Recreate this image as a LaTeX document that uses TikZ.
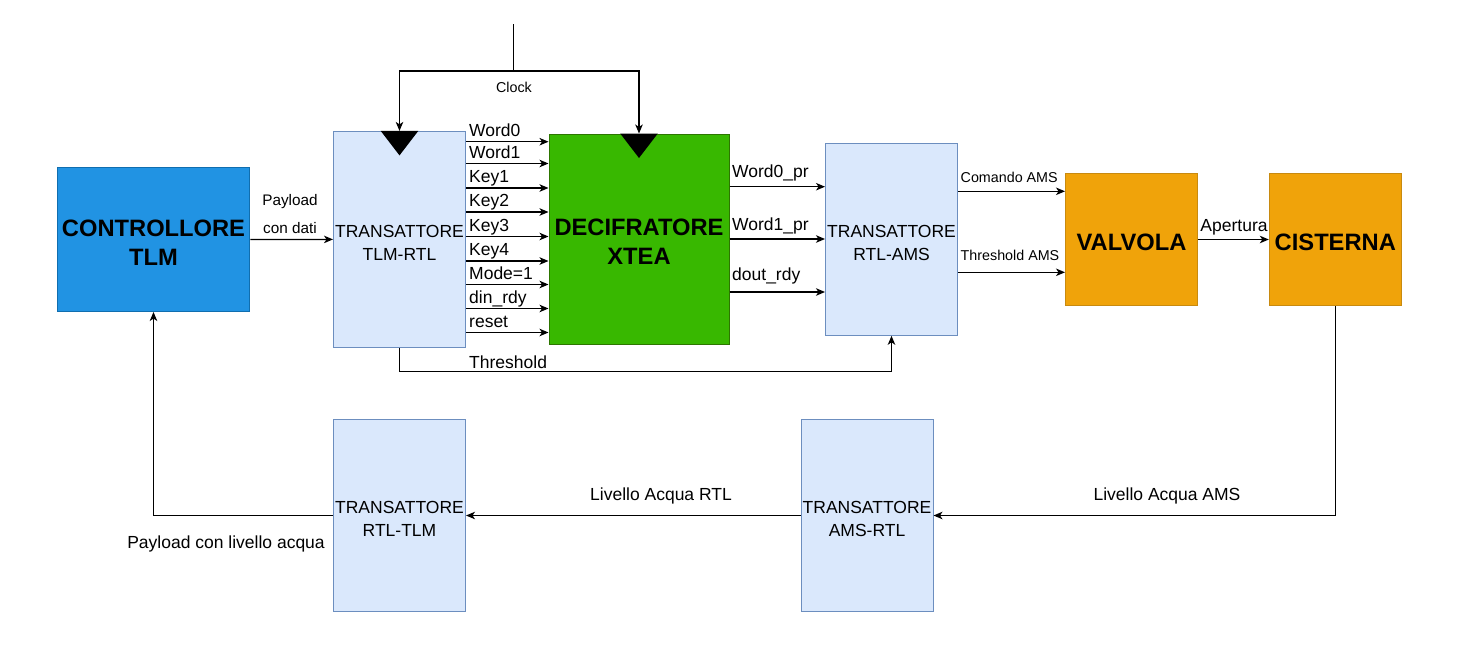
\documentclass[tikz,border=0pt]{standalone}
\usepackage{fontspec}
\setmainfont{Liberation Sans}
\usetikzlibrary{arrows.meta}
\definecolor{bluefill}{RGB}{33,147,227}
\definecolor{bluestroke}{RGB}{16,110,175}
\definecolor{tfill}{HTML}{DAE8FC}
\definecolor{tstroke}{HTML}{6C8EBF}
\definecolor{gfill}{HTML}{38B800}
\definecolor{gstroke}{HTML}{2D7600}
\definecolor{ofill}{HTML}{F0A30A}
\definecolor{ostroke}{HTML}{C88A10}
\begin{document}
\begin{tikzpicture}[x=1pt,y=-1pt,
 blk/.style={draw, line width=1pt, inner sep=0pt, anchor=center},
 trans/.style={blk, fill=tfill, draw=tstroke, minimum width=132pt},
 tt/.style={inner sep=0pt, align=center, yshift=-3.5pt, font=\fontsize{17.5}{22.5}\selectfont},
 bt/.style={inner sep=0pt, align=center, yshift=-3pt, font=\fontsize{23.7}{29}\selectfont\bfseries},
 arr/.style={line width=1.2pt, -{Stealth[length=9pt,width=7.5pt,inset=2.5pt]}},
 lbl/.style={inner sep=0pt, font=\fontsize{17.5}{21}\selectfont},
 sml/.style={inner sep=0pt, font=\fontsize{14.3}{17}\selectfont},
 mid/.style={inner sep=0pt, font=\fontsize{15.3}{18}\selectfont},
]
\useasboundingbox (0,0) rectangle (1461,645);

% blocks
\node[blk, fill=bluefill, draw=bluestroke, minimum width=192.5pt, minimum height=144pt,
  label={[bt]center:CONTROLLORE\\TLM}] (ctrl) at (153.5,239.5) {};
\node[trans, minimum height=216pt, label={[tt]center:TRANSATTORE\\TLM-RTL}] (tlmrtl) at (399.5,239.4) {};
\node[blk, fill=gfill, draw=gstroke, minimum width=180pt, minimum height=210pt,
  label={[bt]center:DECIFRATORE\\XTEA}] (xtea) at (639,239) {};
\node[trans, minimum height=192pt, label={[tt]center:TRANSATTORE\\RTL-AMS}] (rtlams) at (891.5,239.3) {};
\node[blk, fill=ofill, draw=ostroke, minimum width=132pt, minimum height=132pt,
  label={[bt, yshift=0pt]center:VALVOLA}] (valv) at (1131.5,239.5) {};
\node[blk, fill=ofill, draw=ostroke, minimum width=132pt, minimum height=132pt,
  label={[bt, yshift=0pt]center:CISTERNA}] (cist) at (1335.3,239.5) {};
\node[trans, minimum height=192pt, label={[tt]center:TRANSATTORE\\RTL-TLM}] (rtltlm) at (399.5,515.5) {};
\node[trans, minimum height=192pt, label={[tt]center:TRANSATTORE\\AMS-RTL}] (amsrtl) at (867,515.5) {};

% clock
\coordinate (clk) at (513.7,24);
\coordinate (split) at (513.7,71);
\draw[line width=1.2pt] (clk) -- (split);
\draw[arr] (split) -| (tlmrtl.north);
\draw[arr] (split) -| (xtea.north);
\node[sml, anchor=base] (clklbl) at (514,92.5) {Clock};
\fill (tlmrtl.north) ++(-18.8,0) -- ++(37.6,0) -- ++(-18.8,24.5) -- cycle;
\fill (xtea.north) ++(-18.8,0) -- ++(37.6,0) -- ++(-18.8,24.5) -- cycle;

% controllore -> tlmrtl
\draw[arr] (ctrl.east) -- (tlmrtl.west);
\node[mid, anchor=base] (pl1) at (290,205) {Payload};
\node[mid, anchor=base] (pl2) at (290,233) {con dati};

% signals tlmrtl -> xtea
\foreach \y/\t in {141.7/Word0, 163.5/Word1, 188/Key1, 212/Key2, 236.5/Key3, 261/Key4, 284.5/Mode=1, 308.5/din\_rdy, 332.5/reset}{
  \draw[arr] (tlmrtl.east |- 0,\y) -- (xtea.west |- 0,\y);
  \node[lbl, anchor=base west] at (469,\y-5.5) {\t};
}

% threshold
\draw[arr] (tlmrtl.south) -- (399.5,371.5) -| (rtlams.south);
\node[lbl, anchor=base west] (thr) at (469,368) {Threshold};

% xtea -> rtlams
\foreach \y/\t/\b in {186.7/Word0\_pr/177, 239/Word1\_pr/230, 292/dout\_rdy/280}{
  \draw[arr] (xtea.east |- 0,\y) -- (rtlams.west |- 0,\y);
  \node[lbl, anchor=base west] at (732,\b) {\t};
}

% rtlams -> valvola
\draw[arr] (rtlams.east |- 0,191.3) -- (valv.west |- 0,191.3);
\node[sml, anchor=base west] (cmd) at (960.5,182.7) {Comando AMS};
\draw[arr] (rtlams.east |- 0,272.3) -- (valv.west |- 0,272.3);
\node[sml, anchor=base west] (thams) at (960.5,260.7) {Threshold AMS};

% valvola -> cisterna
\draw[arr] (valv.east) -- (cist.west);
\node[lbl, anchor=base] (ap) at (1234,231.7) {Apertura};

% return path
\draw[arr] (cist.south) |- (amsrtl.east);
\node[lbl, anchor=base] (lams) at (1167,500) {Livello Acqua AMS};
\draw[arr] (amsrtl.west) -- (rtltlm.east);
\node[lbl, anchor=base] (lrtl) at (661,500) {Livello Acqua RTL};
\draw[arr] (rtltlm.west) -| (ctrl.south);
\node[lbl, anchor=base] (plw) at (226,548.5) {Payload con livello acqua};
\end{tikzpicture}
\end{document}
